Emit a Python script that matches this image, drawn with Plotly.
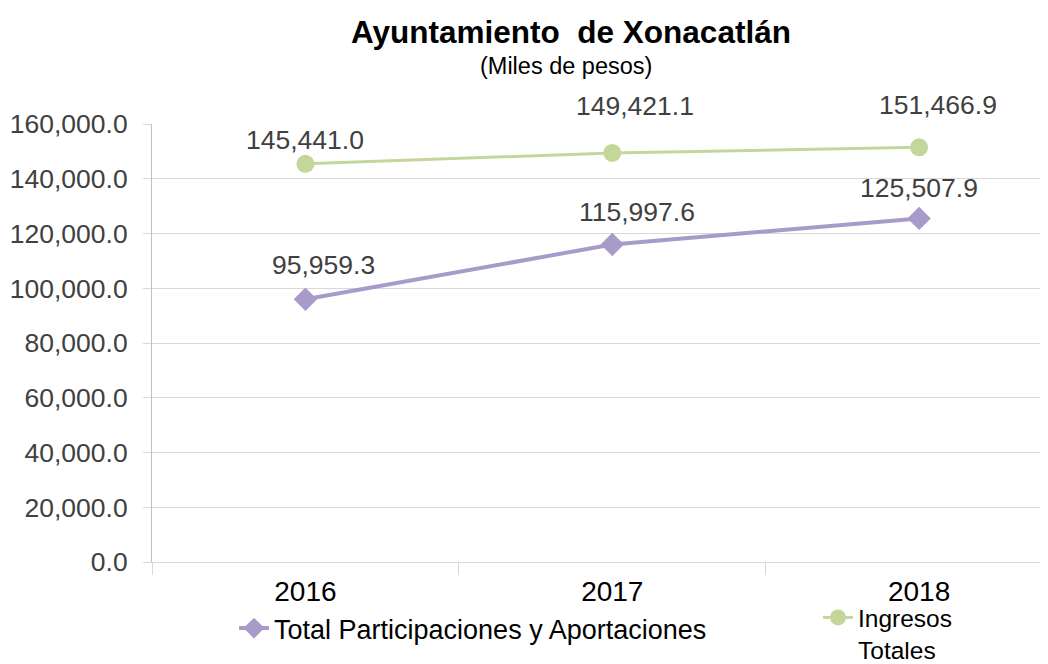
import plotly.graph_objects as go

years = ["2016", "2017", "2018"]
participaciones = [95959.3, 115997.6, 125507.9]
ingresos = [145441.0, 149421.1, 151466.9]
series_names = ["Total Participaciones y Aportaciones", "Ingresos<br>Totales"]
title_text = "<b>Ayuntamiento\u00a0 de Xonacatlán</b>"
subtitle_text = "(Miles de pesos)"

purple = "#A99BC9"
green = "#C4D79B"
label_color = "#404040"
FONT = "Liberation Sans"

# the page body adds an 8px offset; figure is sized so it fills the window
OFF = 8
FIG_W, FIG_H = 1048 - OFF, 664 - OFF
L, R, T, B = 152 - OFF, 0, 124 - OFF, FIG_H - (562 - OFF)
W = FIG_W - L - R
H = FIG_H - T - B

fig = go.Figure()
fig.add_trace(go.Scatter(
    x=years, y=participaciones, name=series_names[0], mode="lines+markers",
    line=dict(color=purple, width=4),
    marker=dict(symbol="diamond", size=18, color=purple),
    legend="legend",
))
fig.add_trace(go.Scatter(
    x=years, y=ingresos, name=series_names[1], mode="lines+markers",
    line=dict(color=green, width=3),
    marker=dict(symbol="circle", size=18, color=green),
    legend="legend2",
))

# data labels (offsets in px, style only)
purple_shift = [(18, 34), (25, 32), (0, 30)]
green_shift = [(0, 24), (23, 47), (19, 42)]
for ys, shifts in ((participaciones, purple_shift), (ingresos, green_shift)):
    for i, (yv, (dx, dy)) in enumerate(zip(ys, shifts)):
        fig.add_annotation(x=i, y=yv, xref="x", yref="y", text=f"{yv:,.1f}", showarrow=False,
                           xshift=dx, yshift=dy,
                           font=dict(family=FONT, size=26.5, color=label_color))

fig.add_annotation(xref="paper", yref="paper", x=(571 - 152) / W, y=1 + (124 - 32) / H,
                   text=title_text, showarrow=False, xanchor="center", yanchor="middle",
                   font=dict(family=FONT, size=31.5, color="#000000"))
fig.add_annotation(xref="paper", yref="paper", x=(566 - 152) / W, y=1 + (124 - 66) / H,
                   text=subtitle_text, showarrow=False, xanchor="center", yanchor="middle",
                   font=dict(family=FONT, size=23.5, color="#000000"))

fig.update_layout(
    width=FIG_W, height=FIG_H,
    margin=dict(l=L, r=R, t=T, b=B, autoexpand=False),
    paper_bgcolor="white", plot_bgcolor="white",
    font=dict(family=FONT, size=22, color=label_color),
    showlegend=True,
    legend=dict(orientation="h", x=(234 - 152) / W, xanchor="left",
                y=-(604 - 562) / H, yanchor="top",
                font=dict(family=FONT, size=27, color="#000000"),
                bgcolor="rgba(0,0,0,0)", valign="top"),
    legend2=dict(orientation="h", x=(818 - 152) / W, xanchor="left",
                 y=-(595 - 562) / H, yanchor="top",
                 font=dict(family=FONT, size=24.5, color="#000000"),
                 bgcolor="rgba(0,0,0,0)", valign="top"),
)
fig.update_xaxes(
    type="category", range=[-0.5, 2.42],
    showline=True, linecolor="#D9D9D9", linewidth=1,
    ticks="outside", tickson="boundaries", ticklen=12, tickcolor="#D9D9D9",
    ticklabelstandoff=4,
    showgrid=False,
    tickfont=dict(family=FONT, size=28, color="#000000"),
)
fig.update_yaxes(
    range=[0, 160000], dtick=20000, tickformat=",.1f",
    showgrid=True, gridcolor="#D9D9D9", gridwidth=1,
    showline=True, linecolor="#BFBFBF", linewidth=1,
    ticks="outside", ticklen=8, tickcolor="#D9D9D9",
    ticklabelstandoff=10,
    zeroline=False,
    tickfont=dict(family=FONT, size=26.5, color=label_color),
)

fig.write_html("out.html")
